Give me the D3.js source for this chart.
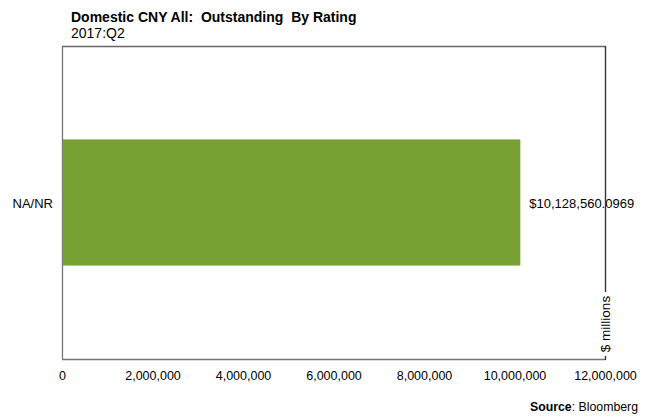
<!DOCTYPE html>
<html><head><meta charset="utf-8">
<script src="https://cdn.jsdelivr.net/npm/d3@7"></script>
<style>body{margin:0;background:#fff;} text{font-family:"Liberation Sans",Arial,sans-serif;white-space:pre;}</style>
</head><body>
<svg id="c" width="651" height="416"></svg>
<script>
const categories = ["NA/NR"];
const values = [10128560.0969];
const valueLabels = ["$10,128,560.0969"];
const xTicks = [0, 2000000, 4000000, 6000000, 8000000, 10000000, 12000000];
const title = "Domestic CNY All:  Outstanding  By Rating";
const subtitle = "2017:Q2";

const svg = d3.select("#c");
const L = 62, R = 605, T = 46, B = 359;
const x = d3.scaleLinear().domain([0, 12000000]).range([L, R]);
const y = d3.scaleBand().domain(categories).range([T, B]).paddingInner(0.595).paddingOuter(0.3);

svg.append("text").attr("x", 71).attr("y", 22).attr("font-size", 14).attr("font-weight", "bold").attr("fill", "#000").text(title);
svg.append("text").attr("x", 71).attr("y", 38).attr("font-size", 14).attr("fill", "#000").text(subtitle);

// frame
svg.append("line").attr("x1", L).attr("x2", R).attr("y1", T + 0.5).attr("y2", T + 0.5).attr("stroke", "#666").attr("stroke-width", 1.3);
svg.append("line").attr("x1", L + 0.5).attr("x2", L + 0.5).attr("y1", T).attr("y2", B).attr("stroke", "#777").attr("stroke-width", 1.3);
svg.append("line").attr("x1", L).attr("x2", R).attr("y1", B + 0.5).attr("y2", B + 0.5).attr("stroke", "#777").attr("stroke-width", 1.3);

// bars
svg.selectAll("rect.bar").data(values).join("rect").attr("class", "bar")
  .attr("x", x(0) + 1).attr("y", (d, i) => y(categories[i]))
  .attr("width", d => x(d) - x(0) - 1).attr("height", y.bandwidth())
  .attr("fill", "#77a233");

// category labels
svg.selectAll("text.cat").data(categories).join("text").attr("class", "cat")
  .attr("x", 53).attr("y", d => y(d) + y.bandwidth() / 2 + 5)
  .attr("text-anchor", "end").attr("font-size", 13).text(d => d);

// value labels
svg.selectAll("text.val").data(values).join("text").attr("class", "val")
  .attr("x", d => x(d) + 9).attr("y", (d, i) => y(categories[i]) + y.bandwidth() / 2 + 5)
  .attr("font-size", 13).text((d, i) => valueLabels[i]);

// right axis line with gap for unit label
svg.append("line").attr("x1", R + 0.5).attr("x2", R + 0.5).attr("y1", T).attr("y2", 292).attr("stroke", "#333").attr("stroke-width", 1.4);
svg.append("line").attr("x1", R + 0.5).attr("x2", R + 0.5).attr("y1", 356).attr("y2", B + 1).attr("stroke", "#333").attr("stroke-width", 1.4);
svg.append("text").attr("transform", `translate(${R + 5},${324}) rotate(-90)`)
  .attr("text-anchor", "middle").attr("font-size", 13.5).text("$ millions");

// x axis labels
const axis = d3.axisBottom(x).tickValues(xTicks).tickSize(0).tickPadding(0).tickFormat(d3.format(","));
const gx = svg.append("g").attr("transform", `translate(0,${B})`).call(axis);
gx.select(".domain").remove();
gx.selectAll("text").attr("font-size", 12.5).attr("font-family", "Liberation Sans, Arial, sans-serif").attr("dy", 0).attr("y", 21).attr("fill", "#000");

svg.append("text").attr("x", 638).attr("y", 411).attr("text-anchor", "end").attr("font-size", 12.3)
  .html('<tspan font-weight="bold">Source</tspan>: Bloomberg');
</script>
</body></html>
